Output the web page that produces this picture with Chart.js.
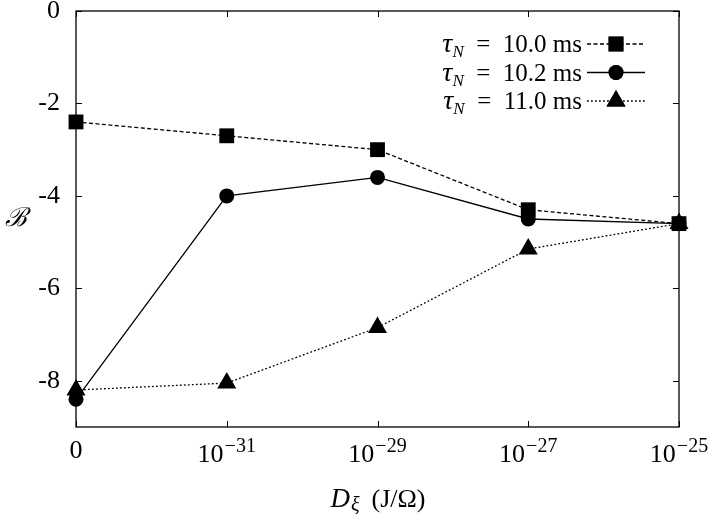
<!DOCTYPE html>
<html>
<head>
<meta charset="utf-8">
<script src="https://cdn.jsdelivr.net/npm/chart.js@4"></script>
<style>
html,body{margin:0;padding:0;background:#fff;}
#wrap{width:720px;height:520px;position:relative;}
</style>
</head>
<body>
<div id="wrap"><canvas id="c" width="720" height="520"></canvas></div>
<script>
// ---- data ----
const xPositions = [0, 1, 2, 3, 4];
const xTickBase = ['0', '10', '10', '10', '10'];
const xTickExp = ['', '\u221231', '\u221229', '\u221227', '\u221225'];
const yTicks = [-8, -6, -4, -2, 0];
const seriesLabels = ['10.0 ms', '10.2 ms', '11.0 ms'];
const tau100 = [-2.4, -2.7, -3.0, -4.3, -4.6];
const tau102 = [-8.4, -4.0, -3.6, -4.5, -4.6];
const tau110 = [-8.2, -8.05, -6.85, -5.15, -4.6];

const FONT = '"Liberation Serif", "DejaVu Serif", serif';
const toPts = arr => arr.map((v, i) => ({x: xPositions[i], y: v}));

const styles = [
  {dash: [4, 2.5], point: 'rect', radius: 10.5, order: 1},
  {dash: [], point: 'circle', radius: 7.5, order: 2},
  {dash: [1.8, 2.2], point: 'triangle', radius: 11, order: 0}
];
const seriesData = [tau100, tau102, tau110];

const datasets = seriesData.map((d, i) => ({
  label: seriesLabels[i],
  data: toPts(d),
  borderColor: '#000',
  backgroundColor: '#000',
  borderWidth: 1.3,
  borderDash: styles[i].dash,
  pointStyle: styles[i].point,
  pointRadius: styles[i].radius,
  pointHoverRadius: styles[i].radius,
  pointBorderWidth: 0,
  pointBackgroundColor: '#000',
  fill: false,
  tension: 0,
  clip: false,
  order: styles[i].order
}));

const framePlugin = {
  id: 'frame',
  afterDraw(chart) {
    const ctx = chart.ctx;
    const a = chart.chartArea;
    const xs = chart.scales.x, ys = chart.scales.y;
    ctx.save();
    ctx.strokeStyle = '#000';
    ctx.lineWidth = 1.3;
    ctx.setLineDash([]);
    ctx.strokeRect(a.left, a.top, a.right - a.left, a.bottom - a.top);
    // inward ticks
    ctx.lineWidth = 1;
    const tl = 6;
    yTicks.forEach(v => {
      const py = Math.round(ys.getPixelForValue(v)) + 0.5;
      ctx.beginPath();
      ctx.moveTo(a.left, py); ctx.lineTo(a.left + tl, py);
      ctx.moveTo(a.right, py); ctx.lineTo(a.right - tl, py);
      ctx.stroke();
    });
    xPositions.forEach(v => {
      const px = Math.round(xs.getPixelForValue(v)) + 0.5;
      ctx.beginPath();
      ctx.moveTo(px, a.bottom); ctx.lineTo(px, a.bottom - tl);
      ctx.moveTo(px, a.top); ctx.lineTo(px, a.top + tl);
      ctx.stroke();
    });
    // x tick labels with superscripts
    ctx.fillStyle = '#000';
    ctx.textBaseline = 'alphabetic';
    xPositions.forEach((v, i) => {
      const px = xs.getPixelForValue(v);
      ctx.font = '26px ' + FONT;
      const bw = ctx.measureText(xTickBase[i]).width;
      ctx.font = '20px ' + FONT;
      const ew = xTickExp[i] ? ctx.measureText(xTickExp[i]).width + 1 : 0;
      const total = bw + ew;
      let sx = px - total / 2;
      ctx.font = '26px ' + FONT;
      ctx.textAlign = 'left';
      ctx.fillText(xTickBase[i], sx, a.bottom + (xTickExp[i] ? 35 : 31));
      if (xTickExp[i]) {
        ctx.font = '20px ' + FONT;
        ctx.fillText(xTickExp[i], sx + bw + 1, a.bottom + 25);
      }
    });
    // x axis title: D_xi (J/Omega)
    const midX = (a.left + a.right) / 2;
    const ty = a.bottom + 80;
    const gap = 12;
    ctx.font = 'italic 27px ' + FONT;
    const dW = ctx.measureText('D').width;
    ctx.font = 'italic 20px ' + FONT;
    const xiW = ctx.measureText('\u03BE').width;
    ctx.font = '26px ' + FONT;
    const restTxt = '(J/\u03A9)';
    const rW = ctx.measureText(restTxt).width;
    let tx = midX - (dW + xiW + gap + rW) / 2;
    ctx.textAlign = 'left';
    ctx.font = 'italic 27px ' + FONT;
    ctx.fillText('D', tx, ty);
    tx += dW + 1;
    ctx.font = 'italic 20px ' + FONT;
    ctx.fillText('\u03BE', tx, ty + 4);
    tx += xiW + gap;
    ctx.font = '26px ' + FONT;
    ctx.fillText(restTxt, tx, ty);
    // y axis title
    ctx.font = 'italic 26px ' + FONT;
    ctx.textAlign = 'center';
    ctx.textBaseline = 'middle';
    ctx.fillText('\u212C', 16, (a.top + a.bottom) / 2);
    // legend
    const textRight = a.right - 97;
    const lineL = a.right - 92, lineR = a.right - 34;
    const rowY0 = a.top + 33, rowGap = 28.5;
    chart.data.datasets.forEach((ds, i) => {
      const y = rowY0 + i * rowGap;
      ctx.textBaseline = 'alphabetic';
      const base = y + 8;
      ctx.font = '25px ' + FONT;
      const mainTxt = '\u2002=\u2002' + ds.label;
      const mW = ctx.measureText(mainTxt).width;
      ctx.font = 'italic 17px ' + FONT;
      const nW = ctx.measureText('N').width;
      ctx.font = 'italic 28px ' + FONT;
      const tW = ctx.measureText('\u03C4').width;
      let lx = textRight - (tW + nW + mW);
      ctx.textAlign = 'left';
      ctx.fillText('\u03C4', lx, base);
      lx += tW;
      ctx.font = 'italic 17px ' + FONT;
      ctx.fillText('N', lx, base + 5);
      lx += nW;
      ctx.font = '25px ' + FONT;
      ctx.fillText(mainTxt, lx, base);
      // line sample
      ctx.strokeStyle = '#000';
      ctx.lineWidth = 1.3;
      ctx.setLineDash(ds.borderDash);
      ctx.beginPath();
      ctx.moveTo(lineL, y); ctx.lineTo(lineR, y);
      ctx.stroke();
      ctx.setLineDash([]);
      Chart.helpers.drawPoint(ctx, {pointStyle: ds.pointStyle, radius: ds.pointRadius, borderWidth: 0}, (lineL + lineR) / 2, y);
      ctx.fillStyle = '#000';
      ctx.fill();
    });
    ctx.restore();
  }
};

new Chart(document.getElementById('c'), {
  type: 'line',
  data: {datasets},
  plugins: [framePlugin],
  options: {
    responsive: false,
    animation: false,
    events: [],
    layout: {padding: {left: 0, right: 41, top: 10, bottom: 0}},
    plugins: {legend: {display: false}, tooltip: {enabled: false}},
    scales: {
      x: {
        type: 'linear', min: 0, max: 4,
        grid: {display: false},
        border: {display: false},
        ticks: {display: false},
        afterFit(s) { s.height = 93; s.paddingLeft = 0; s.paddingRight = 0; }
      },
      y: {
        type: 'linear', min: -9, max: 0,
        grid: {display: false},
        border: {display: false},
        afterBuildTicks(s) { s.ticks = yTicks.map(v => ({value: v})); },
        ticks: {
          color: '#000',
          font: {family: FONT, size: 26},
          padding: 8,
          callback: v => String(v)
        },
        afterFit(s) { s.width = 76; s.paddingTop = 0; s.paddingBottom = 0; }
      }
    }
  }
});
</script>
</body>
</html>
